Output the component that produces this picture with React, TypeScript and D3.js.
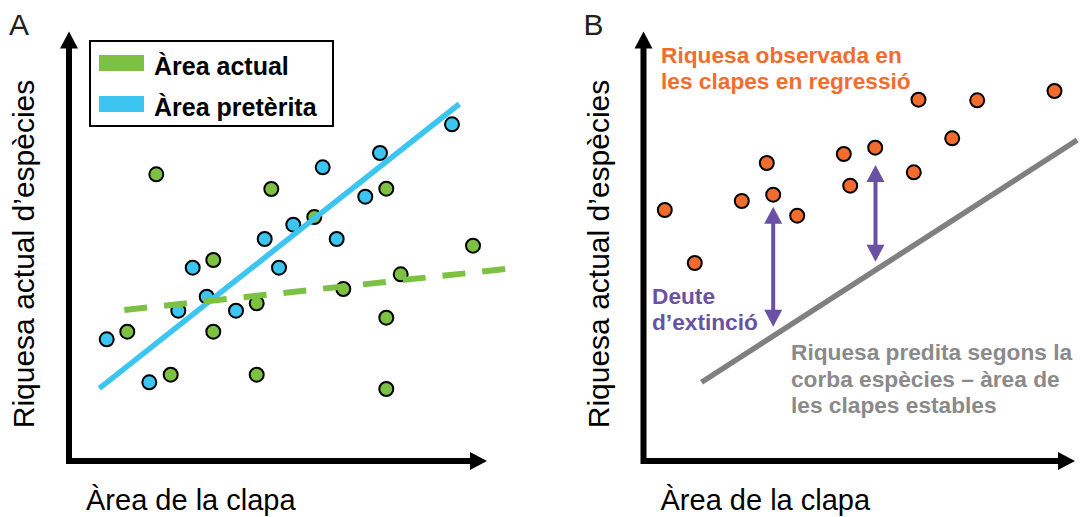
import * as d3 from 'd3'

// panel A: patch area vs species richness (arbitrary units)
const currentArea: [number, number][] = [
  [5.83, 12.93], [8.73, 28.67], [10.17, 8.63], [14.43, 20.1], [14.43, 12.93],
  [18.77, 15.77], [18.77, 8.63], [20.23, 27.2], [24.53, 24.4], [27.43, 17.2],
  [31.73, 27.23], [31.73, 14.33], [31.73, 7.2], [33.17, 18.67], [40.4, 21.53],
]
const pastArea: [number, number][] = [
  [3.77, 12.17], [8.03, 7.87], [10.93, 15.03], [12.37, 19.33], [13.77, 16.43],
  [16.7, 15.03], [19.57, 22.2], [21.0, 19.33], [22.43, 23.63], [25.37, 29.37],
  [26.77, 22.2], [29.63, 26.43], [31.1, 30.8], [38.3, 33.67],
]
const pastFit: [number, number][] = [[3.03, 7.27], [39.03, 35.7]]
const currentFit: [number, number][] = [[5.53, 15.1], [43.7, 19.2]]

// panel B
const regressing: [number, number][] = [
  [2.13, 25.1], [5.13, 19.8], [9.83, 26.0], [12.33, 29.8], [12.97, 26.63],
  [15.37, 24.53], [20.03, 30.7], [20.67, 27.53], [23.17, 31.33], [27.03, 28.87],
  [27.5, 36.13], [30.87, 32.27], [33.37, 36.07], [41.1, 37.0],
]
const stableFit: [number, number][] = [[5.8, 7.87], [43.37, 32.1]]
const debtArrows: { x: number; y0: number; y1: number }[] = [
  { x: 12.97, y0: 25.43, y1: 13.43 },
  { x: 23.2, y0: 29.6, y1: 19.93 },
]

const legendItems = [
  { label: 'Àrea actual', color: '#7dc142' },
  { label: 'Àrea pretèrita', color: '#3cc5f1' },
]

const GREEN = '#7dc142'
const BLUE = '#3cc5f1'
const ORANGE = '#f26d2d'
const PURPLE = '#6a51a3'
const GREY = '#808080'
const FONT = '"Liberation Sans", Arial, sans-serif'

const y = d3.scaleLinear().domain([0, 43]).range([461, 31])
const xA = d3.scaleLinear().domain([0, 42]).range([69, 489])
const xB = d3.scaleLinear().domain([0, 42]).range([643.5, 1063.5])

function Axes({ x0, xEnd, letter }: { x0: number; xEnd: number; letter: string }) {
  const yb = 461
  const top = 31.5
  return (
    <g>
      <path d={`M${x0},${top + 15} V${yb} H${xEnd - 15}`} fill="none" stroke="#000" strokeWidth={6} strokeLinejoin="miter" />
      <polygon points={`${x0},${top} ${x0 - 9},${top + 17} ${x0 + 9},${top + 17}`} fill="#000" />
      <polygon points={`${xEnd},${yb} ${xEnd - 17},${yb - 9} ${xEnd - 17},${yb + 9}`} fill="#000" />
      <text x={x0 + 17} y={510} fontSize={29} fontFamily={FONT} fill="#000">Àrea de la clapa</text>
      <text transform={`translate(${x0 - 35},254) rotate(-90)`} textAnchor="middle" fontSize={30} fontFamily={FONT} fill="#000">
        Riquesa actual d’espècies
      </text>
      <text x={x0 - 60} y={35} fontSize={30} fontFamily={FONT} fill="#231f20">{letter}</text>
    </g>
  )
}

function Dots({ data, x, color }: { data: [number, number][]; x: d3.ScaleLinear<number, number>; color: string }) {
  return (
    <g>
      {data.map((d, i) => (
        <circle key={i} cx={x(d[0])} cy={y(d[1])} r={7} fill={color} stroke="#000" strokeWidth={2} />
      ))}
    </g>
  )
}

export default function App() {
  const lineA = d3.line<[number, number]>().x((d) => xA(d[0])).y((d) => y(d[1]))
  const lineB = d3.line<[number, number]>().x((d) => xB(d[0])).y((d) => y(d[1]))

  return (
    <svg width={1081} height={517} style={{ position: 'absolute', left: 0, top: 0, background: '#fff' }}>
      {/* Panel A */}
      <Axes x0={xA(0)} xEnd={487} letter="A" />
      <rect x={90} y={41} width={243} height={85} fill="#fff" stroke="#000" strokeWidth={2} />
      {legendItems.map((it, i) => (
        <g key={it.label} transform={`translate(99,${55 + i * 41})`}>
          <rect width={45} height={16} fill={it.color} />
          <text x={55} y={20} fontSize={25} fontWeight="bold" fontFamily={FONT} fill="#000">{it.label}</text>
        </g>
      ))}
      <Dots data={currentArea} x={xA} color={GREEN} />
      <Dots data={pastArea} x={xA} color={BLUE} />
      <path d={lineA(pastFit) ?? ''} stroke={BLUE} strokeWidth={5.5} fill="none" />
      <path d={lineA(currentFit) ?? ''} stroke={GREEN} strokeWidth={6} strokeDasharray="23 17" fill="none" />

      {/* Panel B */}
      <Axes x0={xB(0)} xEnd={1075} letter="B" />
      <path d={lineB(stableFit) ?? ''} stroke={GREY} strokeWidth={5.5} fill="none" />
      <Dots data={regressing} x={xB} color={ORANGE} />
      {debtArrows.map((a, i) => {
        const cx = xB(a.x)
        const t = y(a.y0)
        const b = y(a.y1)
        return (
          <g key={i} fill={PURPLE}>
            <rect x={cx - 2} y={t + 15} width={4} height={b - t - 30} />
            <polygon points={`${cx},${t} ${cx - 9},${t + 17} ${cx + 9},${t + 17}`} />
            <polygon points={`${cx},${b} ${cx - 9},${b - 17} ${cx + 9},${b - 17}`} />
          </g>
        )
      })}
      <g fontFamily={FONT} fontWeight="bold" fontSize={22.7} style={{ whiteSpace: 'pre' }}>
        <text fill={ORANGE}>
          <tspan x={661} y={63}>Riquesa observada en</tspan>
          <tspan x={661} y={88.5}>les clapes en regressió</tspan>
        </text>
        <text fill={PURPLE}>
          <tspan x={652} y={304}>Deute</tspan>
          <tspan x={652} y={330}>d’extinció</tspan>
        </text>
        <text fill="#8a8a8a">
          <tspan x={791} y={360}>Riquesa predita segons la</tspan>
          <tspan x={791} y={386.5}>{'corba espècies –  àrea de'}</tspan>
          <tspan x={791} y={413}>les clapes estables</tspan>
        </text>
      </g>
    </svg>
  )
}
